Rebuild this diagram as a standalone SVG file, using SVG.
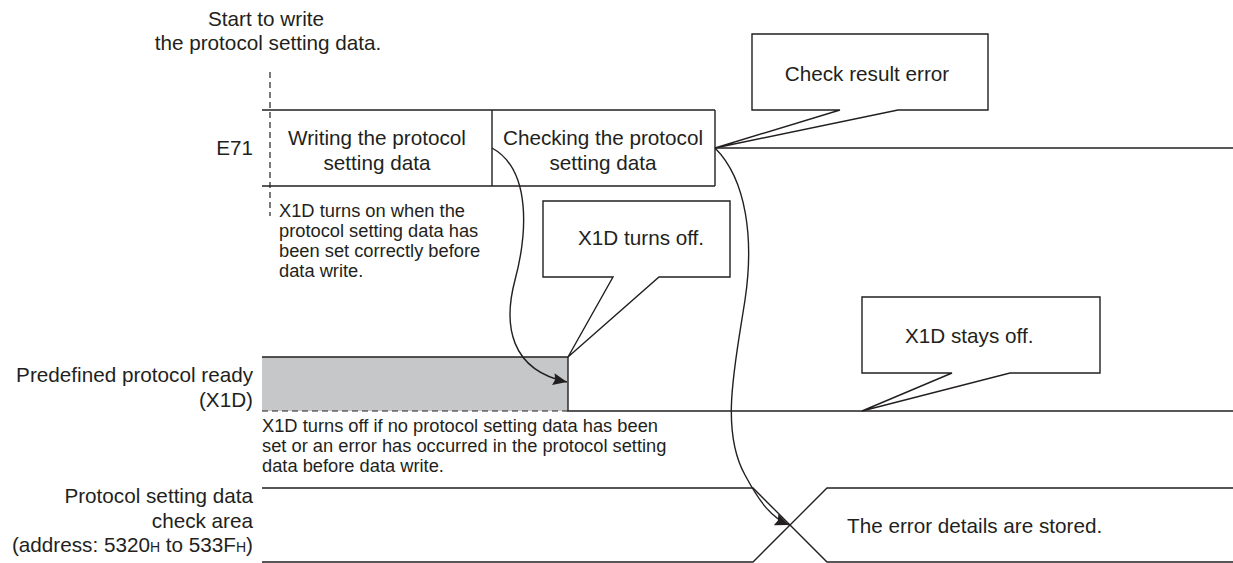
<svg xmlns="http://www.w3.org/2000/svg" width="1233" height="563" viewBox="0 0 1233 563">
<style>
text{font-family:"Liberation Sans",Arial,sans-serif;fill:#231f20;}
.m{font-size:20.7px;}
.s{font-size:18.3px;}
.r{text-anchor:end;}
.c{text-anchor:middle;}
.ln{stroke:#231f20;stroke-width:1.4;fill:none;}
.bx{stroke:#231f20;stroke-width:1.4;fill:#fff;}
.dash{stroke:#231f20;stroke-width:1.2;stroke-dasharray:6,4;fill:none;}
.sub{font-size:14px;}
</style>
<defs>
<marker id="ah" markerUnits="userSpaceOnUse" markerWidth="15" markerHeight="12" refX="14" refY="6" orient="auto">
<path d="M0,0 L14,6 L0,12 L2,6 Z" fill="#231f20"/>
</marker>
</defs>
<rect width="1233" height="563" fill="#fff"/>

<g id="start-label">
<text class="m c" x="266" y="26">Start to write</text>
<text class="m c" x="268" y="50">the protocol setting data.</text>
<line class="dash" x1="270" y1="72" x2="270" y2="216"/>
</g>

<g id="labels">
<text class="m r" x="253" y="155">E71</text>
<text class="m r" x="253" y="382">Predefined protocol ready</text>
<text class="m r" x="253" y="407">(X1D)</text>
<text class="m r" x="253" y="503">Protocol setting data</text>
<text class="m r" x="253" y="528">check area</text>
<text class="m r" x="253" y="552">(address: 5320<tspan class="sub">H</tspan> to 533F<tspan class="sub">H</tspan>)</text>
</g>

<g id="e71-row">
<line class="ln" x1="262" y1="110" x2="715" y2="110"/>
<line class="ln" x1="262" y1="186" x2="715" y2="186"/>
<line class="ln" x1="492" y1="110" x2="492" y2="186"/>
<line class="ln" x1="715" y1="110" x2="715" y2="186"/>
<line class="ln" x1="715" y1="148" x2="1233" y2="148"/>
</g>
<g id="writing">
<text class="m c" x="377" y="145">Writing the protocol</text>
<text class="m c" x="377" y="170">setting data</text>
</g>
<g id="checking">
<text class="m c" x="603" y="145">Checking the protocol</text>
<text class="m c" x="603" y="170">setting data</text>
</g>

<g id="note-on">
<text class="s" x="279" y="217">X1D turns on when the</text>
<text class="s" x="279" y="237">protocol setting data has</text>
<text class="s" x="279" y="257">been set correctly before</text>
<text class="s" x="279" y="277">data write.</text>
</g>

<g id="x1d-row">
<rect x="262" y="357" width="306" height="54" fill="#c6c7c9"/>
<polyline class="ln" points="262,357 568,357 568,411 1233,411"/>
<line class="dash" x1="262" y1="411" x2="568" y2="411"/>
</g>

<g id="note-off">
<text class="s" x="262" y="432">X1D turns off if no protocol setting data has been</text>
<text class="s" x="262" y="452">set or an error has occurred in the protocol setting</text>
<text class="s" x="262" y="472">data before data write.</text>
</g>

<g id="check-area-row">
<polyline class="ln" points="262,488 753,488 827,562 1233,562"/>
<polyline class="ln" points="262,562 753,562 827,488 1233,488"/>
<text class="m" x="847" y="533">The error details are stored.</text>
</g>

<g id="callout-check-result">
<path class="bx" d="M752,34 H988 V110 H898 L715,148 L840,110 H752 Z"/>
<text class="m c" x="867" y="81">Check result error</text>
</g>

<g id="callout-turns-off">
<path class="bx" d="M543,201 H730 V277 H659 L568,357 L613,277 H543 Z"/>
<text class="m" x="578" y="245">X1D turns off.</text>
</g>

<g id="callout-stays-off">
<path class="bx" d="M862,297 H1100 V373 H1010 L862,411 L952,373 H862 Z"/>
<text class="m" x="905" y="343">X1D stays off.</text>
</g>

<g id="connectors">
<path class="ln" d="M492,148 C532,170 527,235 515,280 C503,325 510,370 567,382" marker-end="url(#ah)"/>
<path class="ln" d="M715,148 C747,180 754,240 745,300 C735,365 720,430 745,475 C760,503 772,518 789,525" marker-end="url(#ah)"/>
</g>
</svg>
